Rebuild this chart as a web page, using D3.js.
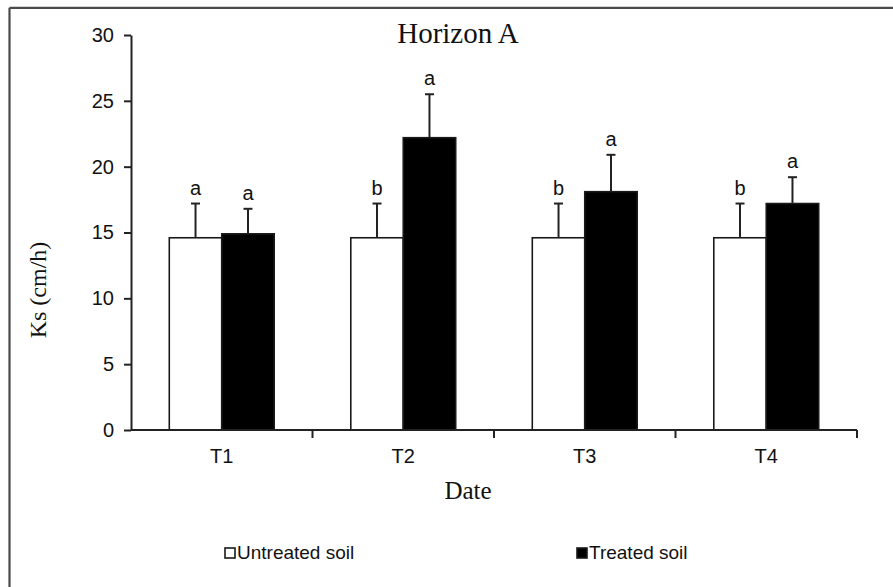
<!DOCTYPE html>
<html>
<head>
<meta charset="utf-8">
<script src="https://cdn.jsdelivr.net/npm/d3@7/dist/d3.min.js"></script>
<style>
  html, body { margin: 0; padding: 0; background: #fff; }
  svg { display: block; }
</style>
</head>
<body>
<svg id="chart" width="893" height="587"></svg>
<script>
// ---- data ----
const categories = ["T1", "T2", "T3", "T4"];
const seriesNames = ["Untreated soil", "Treated soil"];
const untreatedValues = [14.6, 14.6, 14.6, 14.6];
const untreatedErrors = [2.6, 2.6, 2.6, 2.6];
const treatedValues = [14.9, 22.2, 18.1, 17.2];
const treatedErrors = [1.9, 3.3, 2.8, 2.0];
const untreatedLetters = ["a", "b", "b", "b"];
const treatedLetters = ["a", "a", "a", "a"];
const yTicks = [0, 5, 10, 15, 20, 25, 30];
const titleText = "Horizon A";
const xTitle = "Date";
const yTitle = "Ks (cm/h)";

const rows = [];
categories.forEach((c, i) => {
  rows.push({cat: c, series: seriesNames[0], value: untreatedValues[i], err: untreatedErrors[i], letter: untreatedLetters[i]});
  rows.push({cat: c, series: seriesNames[1], value: treatedValues[i], err: treatedErrors[i], letter: treatedLetters[i]});
});

const svg = d3.select("#chart");
const plot = {left: 131, right: 857, top: 35, bottom: 430};

const x0 = d3.scaleBand().domain(categories).range([plot.left, plot.right]).padding(0);
const x1 = d3.scaleBand().domain(seriesNames).range([0, x0.bandwidth()]).paddingInner(0).paddingOuter(0.73);
const y = d3.scaleLinear().domain([0, 30]).range([plot.bottom, plot.top]);
const fillColor = d3.scaleOrdinal().domain(seriesNames).range(["#ffffff", "#000000"]);

const sans = "'Liberation Sans', Arial, sans-serif";
const serif = "'Liberation Serif', 'Times New Roman', serif";

// frame (top & left lines only, as cropped)
svg.append("line").attr("x1", 9.5).attr("x2", 893).attr("y1", 7.8).attr("y2", 7.8)
  .attr("stroke", "#4a4a4a").attr("stroke-width", 2.2);
svg.append("line").attr("x1", 9.5).attr("x2", 9.5).attr("y1", 7.8).attr("y2", 587)
  .attr("stroke", "#4a4a4a").attr("stroke-width", 2.2);

// title
svg.append("text").attr("x", 458).attr("y", 43).attr("text-anchor", "middle")
  .style("font-family", serif).style("font-size", "29px").attr("fill", "#111").text(titleText);

// bars
const g = svg.append("g");
g.selectAll("rect.bar").data(rows).join("rect").attr("class", "bar")
  .attr("x", d => x0(d.cat) + x1(d.series))
  .attr("y", d => y(d.value))
  .attr("width", x1.bandwidth())
  .attr("height", d => y(0) - y(d.value))
  .attr("fill", d => fillColor(d.series))
  .attr("stroke", "#1a1a1a").attr("stroke-width", 1.6);

// error bars (upper only)
const cx = d => x0(d.cat) + x1(d.series) + x1.bandwidth() / 2;
g.selectAll("line.err").data(rows).join("line").attr("class", "err")
  .attr("x1", cx).attr("x2", cx)
  .attr("y1", d => y(d.value)).attr("y2", d => y(d.value + d.err))
  .attr("stroke", "#222").attr("stroke-width", 2);
g.selectAll("line.cap").data(rows).join("line").attr("class", "cap")
  .attr("x1", d => cx(d) - 4.5).attr("x2", d => cx(d) + 4.5)
  .attr("y1", d => y(d.value + d.err)).attr("y2", d => y(d.value + d.err))
  .attr("stroke", "#222").attr("stroke-width", 2);

// significance letters
g.selectAll("text.letter").data(rows).join("text").attr("class", "letter")
  .attr("x", cx).attr("y", d => y(d.value + d.err) - 9)
  .attr("text-anchor", "middle")
  .style("font-family", sans).style("font-size", "20px").attr("fill", "#111")
  .text(d => d.letter);

// y axis
const yAxis = d3.axisLeft(y).tickValues(yTicks).tickSize(7).tickSizeOuter(0).tickPadding(10);
const gy = svg.append("g").attr("transform", `translate(${plot.left},0)`).call(yAxis);
gy.select(".domain").attr("stroke", "#222").attr("stroke-width", 2);
gy.selectAll(".tick line").attr("stroke", "#222").attr("stroke-width", 2);
gy.selectAll(".tick text").style("font-family", sans).style("font-size", "20px").attr("fill", "#111");

// x axis
const gx = svg.append("g").attr("transform", `translate(0,${plot.bottom})`);
gx.append("line").attr("x1", plot.left).attr("x2", plot.right).attr("y1", 0).attr("y2", 0)
  .attr("stroke", "#222").attr("stroke-width", 2);
const boundaries = categories.map(c => x0(c) + x0.bandwidth());
gx.selectAll("line.tk").data(boundaries).join("line").attr("class", "tk")
  .attr("x1", d => d).attr("x2", d => d).attr("y1", 0).attr("y2", 8)
  .attr("stroke", "#222").attr("stroke-width", 2);
gx.selectAll("text.cl").data(categories).join("text").attr("class", "cl")
  .attr("x", d => x0(d) + x0.bandwidth() / 2).attr("y", 33)
  .attr("text-anchor", "middle")
  .style("font-family", sans).style("font-size", "20px").attr("fill", "#111")
  .text(d => d);

// axis titles
svg.append("text").attr("x", 468).attr("y", 499).attr("text-anchor", "middle")
  .style("font-family", serif).style("font-size", "25px").attr("fill", "#111").text(xTitle);
svg.append("text").attr("transform", "translate(46,290) rotate(-90)").attr("text-anchor", "middle")
  .style("font-family", serif).style("font-size", "24px").attr("fill", "#111").text(yTitle);

// legend
const legend = svg.append("g");
const legendX = [225, 577];
seriesNames.forEach((s, i) => {
  legend.append("rect").attr("x", legendX[i]).attr("y", 548).attr("width", 10).attr("height", 10)
    .attr("fill", fillColor(s)).attr("stroke", "#1a1a1a").attr("stroke-width", 1.6);
  legend.append("text").attr("x", legendX[i] + 12).attr("y", 559)
    .style("font-family", sans).style("font-size", "19px").attr("fill", "#111").text(s);
});
</script>
</body>
</html>
